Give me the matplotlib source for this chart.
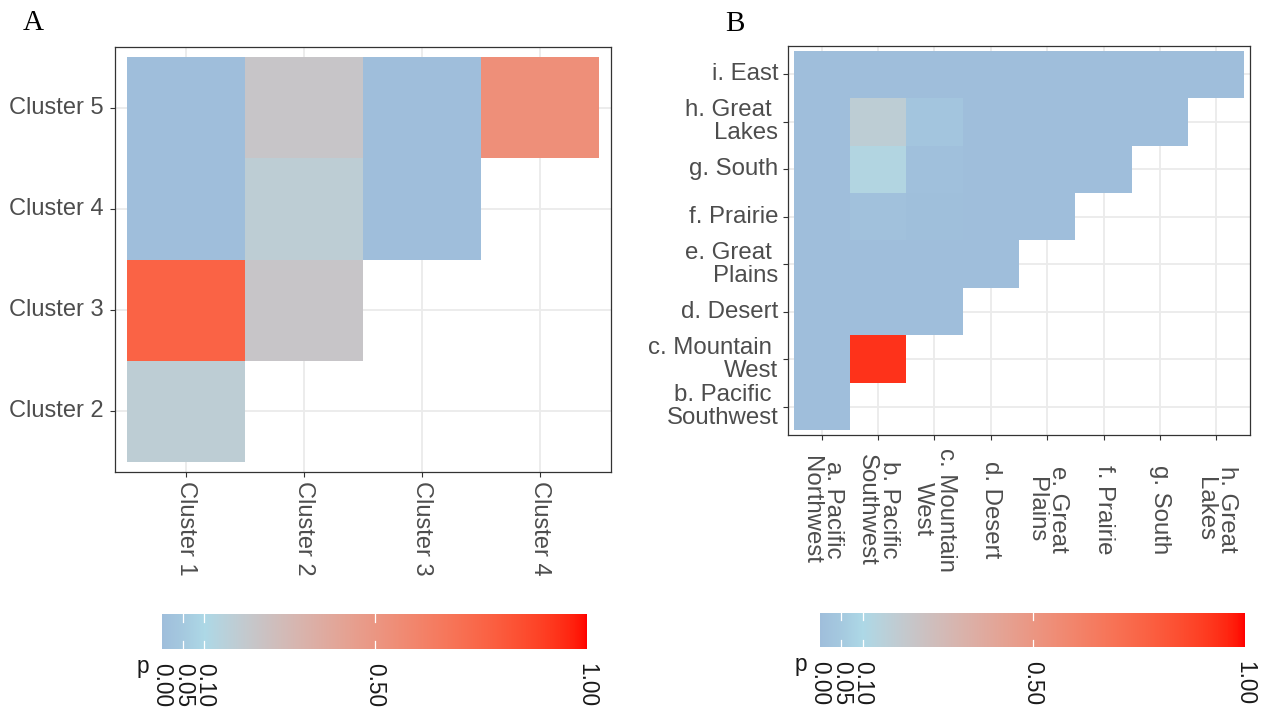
import numpy as np
import matplotlib
matplotlib.use("Agg")
import matplotlib.pyplot as plt
from matplotlib.colors import ListedColormap, Normalize

# ---------------- data ----------------
clusters_x = ["Cluster 1", "Cluster 2", "Cluster 3", "Cluster 4"]
clusters_y = ["Cluster 2", "Cluster 3", "Cluster 4", "Cluster 5"]
nan = np.nan
p_clusters = [
    [0.17, nan, nan, nan],    # Cluster 2
    [0.76, 0.22, nan, nan],   # Cluster 3
    [0.00, 0.17, 0.00, nan],  # Cluster 4
    [0.00, 0.22, 0.00, 0.54], # Cluster 5
]

regions_x = ["a. Pacific\nNorthwest", "b. Pacific\nSouthwest", "c. Mountain\nWest",
             "d. Desert", "e. Great\nPlains", "f. Prairie", "g. South",
             "h. Great\nLakes"]
regions_y = ["b. Pacific \nSouthwest", "c. Mountain \nWest", "d. Desert",
             "e. Great \nPlains", "f. Prairie", "g. South", "h. Great \nLakes",
             "i. East"]
p_regions = [
    [0.00, nan, nan, nan, nan, nan, nan, nan],
    [0.00, 0.93, nan, nan, nan, nan, nan, nan],
    [0.00, 0.00, 0.00, nan, nan, nan, nan, nan],
    [0.00, 0.00, 0.00, 0.00, nan, nan, nan, nan],
    [0.00, 0.015, 0.005, 0.00, 0.00, nan, nan, nan],
    [0.00, 0.12, 0.01, 0.00, 0.00, 0.00, nan, nan],
    [0.00, 0.17, 0.035, 0.00, 0.00, 0.00, 0.00, nan],
    [0.00, 0.00, 0.00, 0.00, 0.00, 0.00, 0.00, 0.00],
]

p_breaks = [0.00, 0.05, 0.10, 0.50, 1.00]
p_break_labels = ["0.00", "0.05", "0.10", "0.50", "1.00"]

# colour stops of the p-value scale
stop_values = [0.00, 0.05, 0.10, 1.00]
stop_colours = ["#9FBEDB", "#A5C9DF", "#ADD8E6", "#FF0000"]

# ---------------- colour scale (interpolated in CIELAB) ----------------
_M = np.array([[0.4124564, 0.3575761, 0.1804375],
               [0.2126729, 0.7151522, 0.0721750],
               [0.0193339, 0.1191920, 0.9503041]])
_WHITE = _M @ np.ones(3)
_D = 6 / 29


def hex_to_rgb(h):
    h = h.lstrip("#")
    return np.array([int(h[i:i + 2], 16) / 255 for i in (0, 2, 4)])


def rgb_to_lab(rgb):
    lin = np.where(rgb <= 0.04045, rgb / 12.92, ((rgb + 0.055) / 1.055) ** 2.4)
    xyz = (_M @ lin) / _WHITE
    f = np.where(xyz > _D ** 3, np.cbrt(xyz), xyz / (3 * _D ** 2) + 4 / 29)
    return np.array([116 * f[1] - 16, 500 * (f[0] - f[1]), 200 * (f[1] - f[2])])


def lab_to_rgb(lab):
    fy = (lab[0] + 16) / 116
    fx = fy + lab[1] / 500
    fz = fy - lab[2] / 200
    f = np.array([fx, fy, fz])
    xyz = np.where(f > _D, f ** 3, 3 * _D ** 2 * (f - 4 / 29)) * _WHITE
    lin = np.linalg.solve(_M, xyz)
    lin = np.clip(lin, 0, 1)
    rgb = np.where(lin <= 0.0031308, 12.92 * lin, 1.055 * lin ** (1 / 2.4) - 0.055)
    return np.clip(rgb, 0, 1)


def lab_gradient(values, colours, n=512):
    labs = [rgb_to_lab(hex_to_rgb(c)) for c in colours]
    out = []
    for v in np.linspace(0, 1, n):
        k = np.searchsorted(values, v, side="right") - 1
        k = min(max(k, 0), len(values) - 2)
        t = (v - values[k]) / (values[k + 1] - values[k])
        out.append(lab_to_rgb(labs[k] * (1 - t) + labs[k + 1] * t))
    return ListedColormap(out)


cmap = lab_gradient(stop_values, stop_colours)
cmap.set_bad((1, 1, 1, 0))
norm = Normalize(0, 1)

# ---------------- figure ----------------
plt.rcParams["font.family"] = ["Liberation Sans", "DejaVu Sans"]
W, H = 1261, 713
fig = plt.figure(figsize=(W / 100, H / 100), dpi=100)


def box(x0, y0, x1, y1):
    return [x0 / W, 1 - y1 / H, (x1 - x0) / W, (y1 - y0) / H]


GRID = "#EBEBEB"
FRAME = "#333333"
TICKTXT = "#4D4D4D"


def heat_panel(ax, data, xlabels, ylabels, fs, xpad, xva, lsp, ypad):
    arr = np.ma.masked_invalid(np.array(data, dtype=float))
    nr, nc = arr.shape
    ax.set_axisbelow(True)
    ax.grid(True, color=GRID, lw=1.3)
    mesh = ax.pcolormesh(np.arange(nc + 1) + 0.5, np.arange(nr + 1) + 0.5, arr,
                         cmap=cmap, norm=norm, shading="flat", zorder=2)
    ax.set_xlim(0.4, nc + 0.6)
    ax.set_ylim(0.4, nr + 0.6)
    ax.set_xticks(np.arange(1, nc + 1))
    ax.set_yticks(np.arange(1, nr + 1))
    ax.set_xticklabels(xlabels, rotation=-90, ha="center", va=xva,
                       multialignment="center", fontsize=fs, color=TICKTXT,
                       linespacing=lsp)
    ax.set_yticklabels(ylabels, ha="right", va="center",
                       multialignment="right", fontsize=fs, color=TICKTXT,
                       linespacing=lsp + 0.05)
    ax.tick_params(axis="both", length=3.6, width=0.8, color=FRAME)
    ax.tick_params(axis="x", pad=xpad)
    ax.tick_params(axis="y", pad=ypad)
    for s in ax.spines.values():
        s.set_color(FRAME)
        s.set_linewidth(0.9)
    return mesh


def p_colourbar(mesh, rect, fs):
    cax = fig.add_axes(rect)
    cb = fig.colorbar(mesh, cax=cax, orientation="horizontal", ticks=p_breaks)
    cb.outline.set_visible(False)
    cax.set_xticklabels(p_break_labels, rotation=-90, ha="center", va="top",
                        fontsize=fs, color="#1A1A1A")
    cax.tick_params(length=0, pad=10)
    tr = cax.get_xaxis_transform()
    for b in p_breaks[1:-1]:
        cax.plot([b, b], [0, 0.22], color="white", lw=0.9, transform=tr)
        cax.plot([b, b], [0.78, 1], color="white", lw=0.9, transform=tr)
    return cax


# Panel A: clusters
axA = fig.add_axes(box(115, 47, 611, 472))
meshA = heat_panel(axA, p_clusters, clusters_x, clusters_y, 17, 3, "top", 1.2, 4.5)
p_colourbar(meshA, box(162, 614, 587, 649), 16.3)
fig.text(143 / W, 1 - 666 / H, "p", ha="center", va="center", fontsize=16.3,
         color="#1A1A1A")

# Panel B: regions
axB = fig.add_axes(box(788, 46, 1250, 435))
meshB = heat_panel(axB, p_regions, regions_x, regions_y, 17.3, 50, "center", 1.02, 3.4)
p_colourbar(meshB, box(820, 613, 1245, 647), 16.3)
fig.text(801 / W, 1 - 665 / H, "p", ha="center", va="center", fontsize=16.3,
         color="#1A1A1A")

# panel tags
fig.text(23 / W, 1 - 30 / H, "A", ha="left", va="baseline", fontsize=21,
         family=["Liberation Serif", "DejaVu Serif"])
fig.text(725 / W, 1 - 31 / H, "B", ha="left", va="baseline", fontsize=21,
         family=["Liberation Serif", "DejaVu Serif"])

fig.savefig("out.png", dpi=100, facecolor="white")
